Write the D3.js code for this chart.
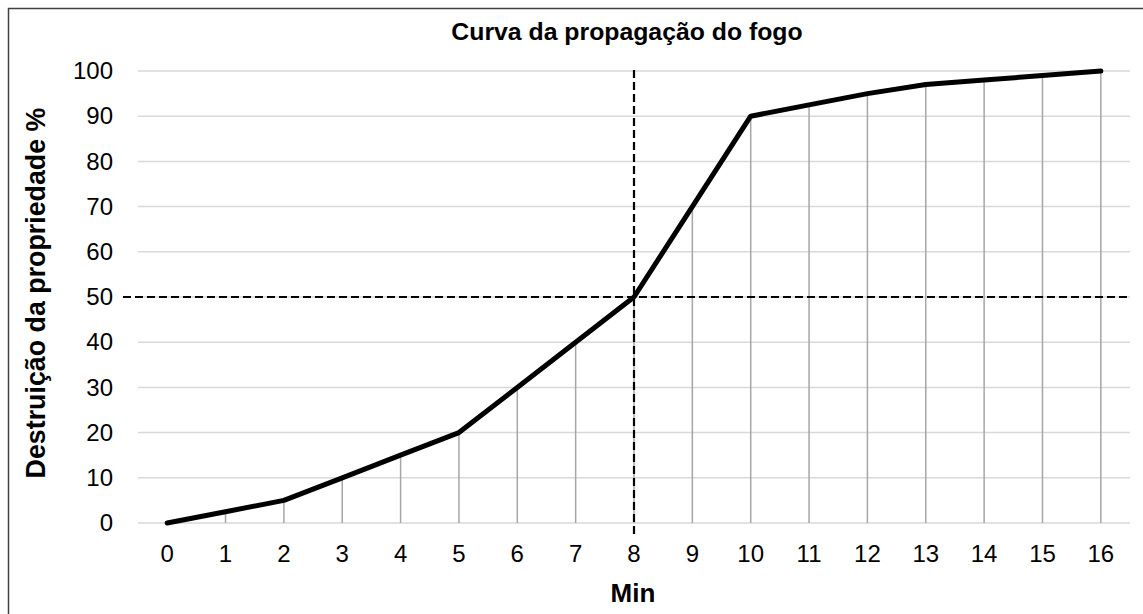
<!DOCTYPE html>
<html>
<head>
<meta charset="utf-8">
<script src="https://cdn.jsdelivr.net/npm/d3@7"></script>
<style>
body{margin:0;background:#fff;}
text{font-family:"Liberation Sans",Arial,sans-serif;}
</style>
</head>
<body>
<div id="chart"></div>
<script>
// dados da curva
var minutes = [0,1,2,3,4,5,6,7,8,9,10,11,12,13,14,15,16];
var destruction = [0,2.5,5,10,15,20,30,40,50,70,90,92.5,95,97,98,99,100];
var yTicks = [0,10,20,30,40,50,60,70,80,90,100];
var markX = 8, markY = 50;

var W = 1143, H = 614;
var margin = {top:71,right:13,bottom:91,left:138},
w = W - margin.left - margin.right,
h = H - margin.top - margin.bottom;

var svg = d3.select("#chart").append("svg")
  .attr("width",W).attr("height",H);

// moldura
svg.append("path")
  .attr("d",`M8.5,${H}V8.5H${W}`)
  .attr("fill","none").attr("stroke","#404040").attr("stroke-width",1.5);

svg.append("text")
  .attr("x",627).attr("y",40)
  .attr("text-anchor","middle")
  .attr("font-size",24.8).attr("font-weight","bold")
  .text("Curva da propagação do fogo");

var g = svg.append("g")
  .attr("transform",`translate(${margin.left},${margin.top})`);

var x = d3.scaleBand()
  .domain(minutes)
  .range([0,w]);
var y = d3.scaleLinear()
  .domain([0,100])
  .range([h,0]);
var cx = function(d){ return x(d) + x.bandwidth()/2; };

// grade horizontal
g.append("g").selectAll("line")
  .data(yTicks)
  .enter().append("line")
  .attr("x1",0).attr("x2",w)
  .attr("y1",d=>y(d)).attr("y2",d=>y(d))
  .attr("stroke","#d9d9d9").attr("stroke-width",1.5);

// linhas de queda
g.append("g").selectAll("line")
  .data(minutes)
  .enter().append("line")
  .attr("x1",d=>cx(d)).attr("x2",d=>cx(d))
  .attr("y1",(d,i)=>y(destruction[i])).attr("y2",y(0))
  .attr("stroke","#a6a6a6").attr("stroke-width",1.5);

// eixos
var yAxis = g.append("g")
  .call(d3.axisLeft(y).tickValues(yTicks).tickSize(0).tickPadding(25));
yAxis.select(".domain").remove();
yAxis.selectAll("text").attr("font-size",24).attr("fill","#000")
  .attr("font-family","Liberation Sans, Arial, sans-serif");

var xAxis = g.append("g")
  .attr("transform",`translate(0,${h})`)
  .call(d3.axisBottom(x).tickSize(0).tickPadding(22));
xAxis.select(".domain").remove();
xAxis.selectAll("text").attr("font-size",24).attr("fill","#000")
  .attr("font-family","Liberation Sans, Arial, sans-serif");

// linhas tracejadas em 8 min / 50 %
g.append("line")
  .attr("x1",-15).attr("x2",w)
  .attr("y1",y(markY)).attr("y2",y(markY))
  .attr("stroke","#000").attr("stroke-width",2.2)
  .attr("stroke-dasharray","8,4");
g.append("line")
  .attr("x1",cx(markX)).attr("x2",cx(markX))
  .attr("y1",y(100)-1).attr("y2",h+15)
  .attr("stroke","#000").attr("stroke-width",2.2)
  .attr("stroke-dasharray","8,4");

// curva
var line = d3.line()
  .x(d=>cx(d))
  .y((d,i)=>y(destruction[i]));
g.append("path")
  .datum(minutes)
  .attr("d",line)
  .attr("fill","none")
  .attr("stroke","#000").attr("stroke-width",5)
  .attr("stroke-linejoin","round").attr("stroke-linecap","round");

svg.append("text")
  .attr("x",633).attr("y",602)
  .attr("text-anchor","middle")
  .attr("font-size",26).attr("font-weight","bold")
  .text("Min");

svg.append("text")
  .attr("transform","translate(45,293) rotate(-90)")
  .attr("text-anchor","middle")
  .attr("font-size",26.8).attr("font-weight","bold")
  .text("Destruição da propriedade %");
</script>
</body>
</html>
